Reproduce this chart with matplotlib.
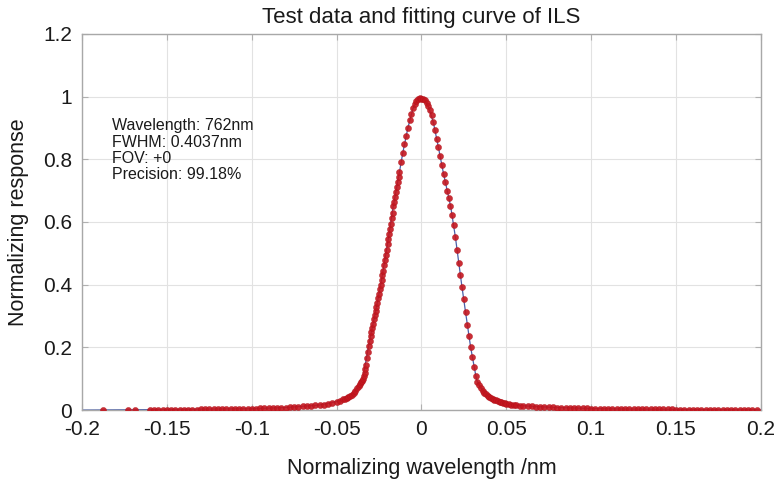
import matplotlib
matplotlib.use("Agg")
import matplotlib.pyplot as plt

plt.rcParams['font.family'] = ['Liberation Sans', 'DejaVu Sans']

# Measured ILS samples (normalized wavelength, normalized response)
left_tail_x = [-0.1876, -0.173, -0.169, -0.160, -0.1575, -0.155, -0.1525, -0.150, -0.1475,
               -0.145, -0.1425, -0.140, -0.1375, -0.135, -0.1325, -0.130, -0.1275, -0.125,
               -0.1225, -0.120, -0.1175, -0.115, -0.1125, -0.110, -0.1075, -0.105, -0.1025,
               -0.100, -0.0975, -0.095, -0.0925, -0.090, -0.0875, -0.085, -0.0825, -0.080,
               -0.0775, -0.075, -0.0725, -0.070, -0.0675, -0.065, -0.0625, -0.060, -0.0575,
               -0.055, -0.0525, -0.050, -0.048]
left_tail_y = [0.0000, 0.0005, 0.0005, 0.0008, 0.0009, 0.0009, 0.0010, 0.0011, 0.0012,
               0.0013, 0.0014, 0.0015, 0.0016, 0.0017, 0.0018, 0.0019, 0.0021, 0.0022,
               0.0024, 0.0025, 0.0027, 0.0029, 0.0031, 0.0033, 0.0035, 0.0038, 0.0040,
               0.0043, 0.0046, 0.0050, 0.0054, 0.0058, 0.0063, 0.0068, 0.0074, 0.0080,
               0.0087, 0.0095, 0.0104, 0.0114, 0.0125, 0.0137, 0.0150, 0.0160, 0.0175,
               0.0195, 0.0220, 0.0270, 0.0300]

core_left_x = [-0.046, -0.045, -0.044, -0.043, -0.042, -0.041, -0.040, -0.039, -0.038, -0.037,
               -0.036, -0.0355, -0.035, -0.0345, -0.034, -0.0335, -0.033, -0.0325, -0.032,
               -0.0315, -0.031, -0.0305, -0.030, -0.0295, -0.029, -0.0285, -0.028, -0.0275,
               -0.027, -0.0265, -0.026, -0.0255, -0.025, -0.0245, -0.024, -0.0235, -0.023,
               -0.0225, -0.022, -0.0215, -0.021, -0.0205, -0.020, -0.0195, -0.019, -0.0185,
               -0.018, -0.0175, -0.017, -0.0165, -0.016, -0.0155, -0.015, -0.0145, -0.014,
               -0.0135, -0.013, -0.012, -0.011, -0.010, -0.009, -0.008, -0.007, -0.006,
               -0.005, -0.004, -0.003, -0.002, -0.001, 0.000]
core_left_y = [0.034, 0.036, 0.039, 0.042, 0.045, 0.048, 0.054, 0.061, 0.070, 0.076,
               0.083, 0.088, 0.092, 0.100, 0.108, 0.117, 0.130, 0.145, 0.165,
               0.185, 0.205, 0.220, 0.235, 0.250, 0.262, 0.275, 0.290, 0.302,
               0.315, 0.328, 0.343, 0.356, 0.370, 0.385, 0.400, 0.415, 0.430,
               0.445, 0.462, 0.478, 0.495, 0.512, 0.530, 0.545, 0.562, 0.578,
               0.595, 0.612, 0.630, 0.650, 0.665, 0.680, 0.695, 0.710, 0.726,
               0.742, 0.758, 0.790, 0.820, 0.848, 0.875, 0.900, 0.925, 0.945,
               0.962, 0.976, 0.986, 0.993, 0.996, 0.993]

core_right_x = [0.001, 0.002, 0.003, 0.004, 0.005, 0.006, 0.007, 0.008, 0.009, 0.010,
                0.011, 0.012, 0.013, 0.014, 0.015, 0.016, 0.017, 0.018, 0.019, 0.020,
                0.021, 0.022, 0.023, 0.024, 0.025, 0.026, 0.027, 0.028, 0.029, 0.030,
                0.031, 0.032, 0.033, 0.034, 0.035, 0.036, 0.037, 0.038, 0.039, 0.040,
                0.041, 0.042, 0.043, 0.044, 0.045, 0.046, 0.047, 0.048, 0.049, 0.050,
                0.0515, 0.053, 0.0545, 0.056, 0.058, 0.060]
core_right_y = [0.992, 0.988, 0.980, 0.970, 0.956, 0.940, 0.918, 0.893, 0.866, 0.838,
                0.810, 0.782, 0.754, 0.727, 0.700, 0.675, 0.652, 0.622, 0.590, 0.552,
                0.512, 0.470, 0.430, 0.392, 0.355, 0.312, 0.272, 0.235, 0.200, 0.168,
                0.138, 0.108, 0.090, 0.080, 0.070, 0.062, 0.055, 0.050, 0.046, 0.042,
                0.039, 0.036, 0.033, 0.031, 0.029, 0.027, 0.025, 0.023, 0.021, 0.019,
                0.018, 0.017, 0.016, 0.015, 0.014, 0.013]

right_tail_x = [0.0625, 0.065, 0.0675, 0.070, 0.0725, 0.075, 0.0775, 0.080, 0.0825, 0.085,
                0.0875, 0.090, 0.0925, 0.095, 0.0975, 0.100, 0.1025, 0.105, 0.1075, 0.110,
                0.1125, 0.115, 0.1175, 0.120, 0.1225, 0.125, 0.1275, 0.130, 0.1325, 0.135,
                0.1375, 0.140, 0.1425, 0.145, 0.1475, 0.150, 0.1525, 0.155, 0.1575, 0.160,
                0.1625, 0.165, 0.1675, 0.170, 0.1725, 0.175, 0.1775, 0.180, 0.1825, 0.185,
                0.1875, 0.190, 0.1925, 0.195, 0.1975]
right_tail_y = [0.0125, 0.0120, 0.0112, 0.0105, 0.0098, 0.0092, 0.0086, 0.0080, 0.0075, 0.0070,
                0.0066, 0.0062, 0.0058, 0.0055, 0.0052, 0.0049, 0.0046, 0.0044, 0.0041, 0.0039,
                0.0037, 0.0035, 0.0033, 0.0032, 0.0030, 0.0029, 0.0027, 0.0026, 0.0025, 0.0024,
                0.0023, 0.0022, 0.0021, 0.0020, 0.0019, 0.0018, 0.0018, 0.0017, 0.0016, 0.0016,
                0.0015, 0.0014, 0.0014, 0.0013, 0.0013, 0.0012, 0.0012, 0.0011, 0.0011, 0.0010,
                0.0010, 0.0010, 0.0009, 0.0009, 0.0008]

# Fitted ILS curve
fit_x = [-0.20, -0.15, -0.10, -0.08, -0.06, -0.05, -0.045, -0.041, -0.038, -0.0347, -0.0313,
         -0.0293, -0.027, -0.024, -0.020, -0.0166, -0.013, -0.011, -0.008, -0.005, -0.002,
         0.000, 0.002, 0.004, 0.007, 0.010, 0.013, 0.0172, 0.020, 0.0237, 0.026, 0.029,
         0.0325, 0.0345, 0.0384, 0.042, 0.046, 0.050, 0.055, 0.062, 0.070, 0.080, 0.10,
         0.12, 0.15, 0.18, 0.20]
fit_y = [0.000, 0.0018, 0.0043, 0.0080, 0.0160, 0.0270, 0.036, 0.048, 0.070, 0.096, 0.200,
         0.255, 0.315, 0.400, 0.530, 0.650, 0.758, 0.820, 0.900, 0.962, 0.993,
         0.994, 0.988, 0.970, 0.918, 0.838, 0.754, 0.650, 0.552, 0.400, 0.312, 0.200,
         0.096, 0.075, 0.048, 0.036, 0.027, 0.019, 0.016, 0.013, 0.0105, 0.0080, 0.0049,
         0.0032, 0.0018, 0.0011, 0.0008]

x_ticks = [-0.2, -0.15, -0.1, -0.05, 0, 0.05, 0.1, 0.15, 0.2]
x_tick_labels = ['-0.2', '-0.15', '-0.1', '-0.05', '0', '0.05', '0.1', '0.15', '0.2']
y_ticks = [0, 0.2, 0.4, 0.6, 0.8, 1.0, 1.2]
y_tick_labels = ['0', '0.2', '0.4', '0.6', '0.8', '1', '1.2']

info_lines = ['Wavelength: 762nm', 'FWHM: 0.4037nm', 'FOV: +0', 'Precision: 99.18%']

data_x = left_tail_x + core_left_x + core_right_x + right_tail_x
data_y = left_tail_y + core_left_y + core_right_y + right_tail_y

fig = plt.figure(figsize=(7.74, 4.83), dpi=100)
ax = fig.add_axes([0.106, 0.151, 0.877, 0.779])

ax.plot(fit_x, fit_y, color='#4a5fa8', lw=0.9, zorder=2)
ax.plot(data_x, data_y, linestyle='none', marker='o', ms=4.4,
        markerfacecolor='#c4161f', markeredgecolor='#b01018', markeredgewidth=0.3,
        alpha=0.9, zorder=3)

ax.set_xlim(-0.2, 0.2)
ax.set_ylim(0, 1.2)
ax.set_xticks(x_ticks)
ax.set_xticklabels(x_tick_labels)
ax.set_yticks(y_ticks)
ax.set_yticklabels(y_tick_labels)

ax.grid(True, color='#e2e2e2', lw=0.8)
ax.set_axisbelow(True)
for sp in ax.spines.values():
    sp.set_color('#a8a8a8')
    sp.set_linewidth(1.0)
ax.tick_params(direction='in', length=4, color='#b0b0b0', labelsize=15,
               labelcolor='#1a1a1a', top=True, right=True, pad=7)

ax.set_title('Test data and fitting curve of ILS', fontsize=16, color='#1a1a1a', pad=8)
ax.set_xlabel('Normalizing wavelength /nm', fontsize=15.5, color='#1a1a1a', labelpad=14)
ax.set_ylabel('Normalizing response', fontsize=15.5, color='#1a1a1a', labelpad=10)

ax.text(0.044, 0.776, '\n'.join(info_lines), transform=ax.transAxes,
        fontsize=11.5, color='#1a1a1a', va='top', ha='left', linespacing=1.12)

fig.savefig('out.png', dpi=100)
